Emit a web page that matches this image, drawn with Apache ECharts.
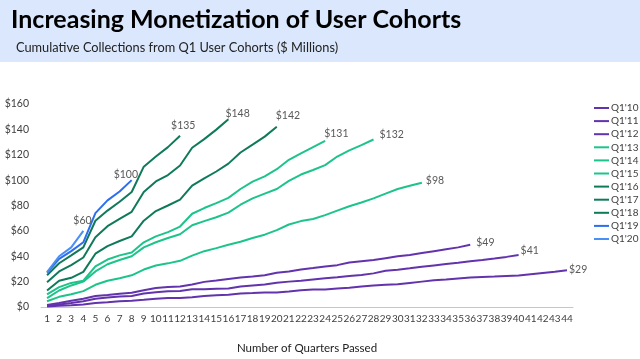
<!DOCTYPE html>
<html>
<head>
<meta charset="utf-8">
<script src="https://cdn.jsdelivr.net/npm/echarts@6/dist/echarts.min.js"></script>
<style>
html,body{margin:0;padding:0;background:#fff;}
#chart{width:640px;height:359px;}
</style>
</head>
<body>
<div id="chart"></div>
<script>
const quarters = Array.from({length: 44}, (_, i) => String(i + 1));
const cohortNames = ["Q1'10","Q1'11","Q1'12","Q1'13","Q1'14","Q1'15","Q1'16","Q1'17","Q1'18","Q1'19","Q1'20"];

const q1_10 = [0.3,1,1.3,2,3.2,3.7,4.5,5,5.7,6.5,7,7,7.7,8.7,9.2,9.7,10.7,11,11.5,11.5,12.3,13.2,13.7,13.7,14.5,15.2,16.2,17,17.5,18,19,20,21,21.7,22.5,23.3,23.7,24,24.4,24.8,25.8,26.8,27.8,29];
const q1_11 = [0.8,2,3.2,4.5,6.5,7.5,8.2,8.7,10.7,11.7,12.5,12.7,14,14,14.3,14.5,16.2,17,17.7,19.2,20,20.7,21.7,22.7,23.5,24.5,25.3,26.5,28.5,29.3,30.5,31.8,32.8,33.8,34.8,36,37,38.2,39.5,41];
const q1_12 = [1.5,3.2,5,6.5,8.7,9.5,10.5,11.2,13.2,15,15.7,16.2,17.7,19.8,20.8,22,23.2,24,25,27,28,29.5,30.7,32,33,35,36,37,38.5,40,41,42.5,44,45.5,47,49];
const q1_13 = [4.5,8,10,12.5,17.5,20.7,22.7,25,29.5,32.7,34.4,36.4,40.5,44,46.4,49,51.4,54.4,57,60.6,65,67.7,69.4,72.4,76,79.4,82.4,85.6,89.4,93,95.6,98];
const q1_14 = [7,13,17,20,28,33.7,37,40,47,51,54.4,57.3,64.4,67.7,70.7,74.4,80.6,85.6,89.4,93,99.4,104.4,108,111.8,118.6,123.5,127.6,132];
const q1_15 = [10,15.7,19,20.7,32,37.4,40.7,43,51,55.7,59,63.4,73.5,78,81.9,86,93,98.8,103,108.6,116,121,126,131];
const q1_16 = [13,20.7,23,27.7,42,48,52,55.7,68,75.6,80,84.7,95.6,101.4,106.8,113,121.8,128,134.3,142];
const q1_17 = [19.5,28,33,39,55,63.7,69.4,75,90.6,99,104,111.5,125.5,132.3,139.8,148];
const q1_18 = [25,34.5,40.7,47,68,76,83,90.6,110.6,118.6,126,135];
const q1_19 = [27,38,44,51,74,84,91,100];
const q1_20 = [27.5,40,47,60];

const seriesValues = [q1_10,q1_11,q1_12,q1_13,q1_14,q1_15,q1_16,q1_17,q1_18,q1_19,q1_20];
const yTicks = [0,20,40,60,80,100,120,140,160];

// styling
const colors = ['#6233ad','#6233ad','#6233ad','#1dc48a','#1dc48a','#1dc48a','#0f7a5a','#0f7a5a','#0f7a5a','#2b6ff0','#4a8ff5'];
const endOffsets = [[2,-1],[2,-4],[6,-2],[4,-2],[6,-5],[-1,-7],[-1,-11],[-3,-6],[-9,-10],[-18,-6],[-10,-10]];

const series = cohortNames.map((name, i) => ({
  name: name,
  type: 'line',
  data: seriesValues[i],
  showSymbol: false,
  symbol: 'none',
  lineStyle: {width: 2, color: colors[i]},
  itemStyle: {color: colors[i]},
  endLabel: {
    show: true,
    formatter: p => '$' + Math.round(p.value),
    distance: 0,
    offset: endOffsets[i],
    color: '#595959',
    fontSize: 10.5,
    fontFamily: 'Lato'
  },
  emphasis: {disabled: true}
}));

const chart = echarts.init(document.getElementById('chart'));
chart.setOption({
  animation: false,
  backgroundColor: '#ffffff',
  graphic: [{
    type: 'rect', left: 0, top: 0, z: -1,
    shape: {width: 640, height: 62},
    style: {fill: '#dae7fc'}
  }],
  title: [{
    text: 'Increasing Monetization of User Cohorts',
    left: 6, top: 2,
    textStyle: {fontSize: 25, fontWeight: 'bold', color: '#000', fontFamily: 'Lato'}
  }, {
    text: 'Cumulative Collections from Q1 User Cohorts ($ Millions)',
    left: 11, top: 36,
    textStyle: {fontSize: 12.8, fontWeight: 'normal', color: '#222', fontFamily: 'Lato'}
  }],
  legend: {
    orient: 'vertical',
    left: 589, top: 97,
    itemWidth: 15, itemHeight: 2, itemGap: 1.1,
    icon: 'rect',
    data: cohortNames,
    textStyle: {fontSize: 10, lineHeight: 12, color: '#404040', fontFamily: 'Lato', padding: [0,0,0,-3]}
  },
  grid: {left: 41, right: 67, top: 104, bottom: 41, containLabel: false},
  xAxis: {
    type: 'category',
    data: quarters,
    boundaryGap: true,
    name: 'Number of Quarters Passed',
    nameLocation: 'middle',
    nameGap: 35,
    nameTextStyle: {fontSize: 11.5, color: '#222', fontFamily: 'Lato'},
    axisLine: {lineStyle: {color: '#c6c6c6', width: 1}},
    axisTick: {show: false},
    axisLabel: {interval: 0, fontSize: 10, color: '#404040', margin: 7, fontFamily: 'Lato'}
  },
  yAxis: {
    type: 'value',
    min: yTicks[0], max: yTicks[yTicks.length - 1], interval: 20,
    axisLine: {show: false},
    axisTick: {show: false},
    splitLine: {show: false},
    axisLabel: {formatter: v => '$' + v, fontSize: 10.5, color: '#404040', margin: 12, fontFamily: 'Lato'}
  },
  series: series
});
</script>
</body>
</html>
